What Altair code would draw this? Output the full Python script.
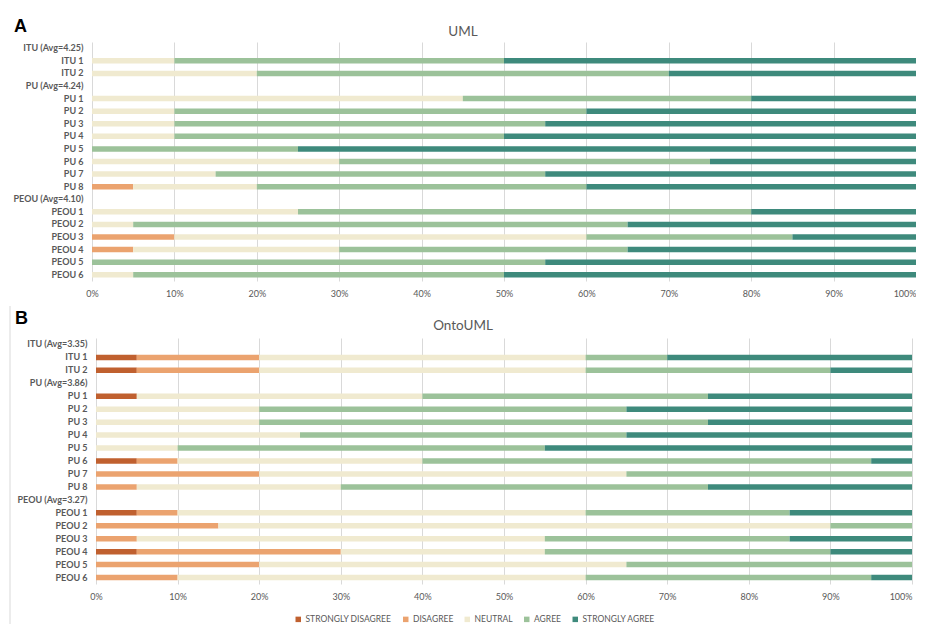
import altair as alt
import pandas as pd

cats = ["STRONGLY DISAGREE", "DISAGREE", "NEUTRAL", "AGREE", "STRONGLY AGREE"]
colors = ["#C0602F", "#EBA36F", "#F0EAD0", "#9CC29A", "#3E8A7C"]

# ---- Panel A : UML ----
uml_rows = ["ITU (Avg=4.25)", "ITU 1", "ITU 2",
            "PU (Avg=4.24)", "PU 1", "PU 2", "PU 3", "PU 4", "PU 5", "PU 6", "PU 7", "PU 8",
            "PEOU (Avg=4.10)", "PEOU 1", "PEOU 2", "PEOU 3", "PEOU 4", "PEOU 5", "PEOU 6"]
uml_items = ["ITU 1", "ITU 2", "PU 1", "PU 2", "PU 3", "PU 4", "PU 5", "PU 6", "PU 7", "PU 8",
             "PEOU 1", "PEOU 2", "PEOU 3", "PEOU 4", "PEOU 5", "PEOU 6"]
uml_sd = [0, 0, 0, 0, 0, 0, 0, 0, 0, 0, 0, 0, 0, 0, 0, 0]
uml_d = [0, 0, 0, 0, 0, 0, 0, 0, 0, 5, 0, 0, 10, 5, 0, 0]
uml_n = [10, 20, 45, 10, 10, 10, 0, 30, 15, 15, 25, 5, 50, 25, 0, 5]
uml_a = [40, 50, 35, 50, 45, 40, 25, 45, 40, 40, 55, 60, 25, 35, 55, 45]
uml_sa = [50, 30, 20, 40, 45, 50, 75, 25, 45, 40, 20, 35, 15, 35, 45, 50]

# ---- Panel B : OntoUML ----
onto_rows = ["ITU (Avg=3.35)", "ITU 1", "ITU 2",
             "PU (Avg=3.86)", "PU 1", "PU 2", "PU 3", "PU 4", "PU 5", "PU 6", "PU 7", "PU 8",
             "PEOU (Avg=3.27)", "PEOU 1", "PEOU 2", "PEOU 3", "PEOU 4", "PEOU 5", "PEOU 6"]
onto_items = uml_items
onto_sd = [5, 5, 5, 0, 0, 0, 0, 5, 0, 0, 5, 0, 0, 5, 0, 0]
onto_d = [15, 15, 0, 0, 0, 0, 0, 5, 20, 5, 5, 15, 5, 25, 20, 10]
onto_n = [40, 40, 35, 20, 20, 25, 10, 30, 45, 25, 50, 75, 50, 25, 45, 50]
onto_a = [10, 30, 35, 45, 55, 40, 45, 55, 35, 45, 25, 10, 30, 35, 35, 35]
onto_sa = [30, 10, 25, 35, 25, 35, 45, 5, 0, 25, 15, 0, 15, 10, 0, 5]

x_ticks = [0, 0.1, 0.2, 0.3, 0.4, 0.5, 0.6, 0.7, 0.8, 0.9, 1.0]

FONT = "Lato"
GRAY = "#595959"


def long_df(items, series):
    recs = []
    for i, it in enumerate(items):
        for k, c in enumerate(cats):
            v = series[k][i]
            if v > 0:
                recs.append({"item": it, "cat": c, "ord": k, "value": v / 100.0})
    return pd.DataFrame(recs)


def panel(df, rows, title, letter, w, h, xrange, lab_pad, title_pos, letter_pos,
          show_legend, frame_line):
    if show_legend:
        leg = alt.Legend(title=None, orient="none", direction="horizontal",
                         legendX=202, legendY=277, symbolType="square",
                         symbolSize=30, symbolStrokeWidth=0,
                         labelFontSize=8.5, labelColor=GRAY, labelFont=FONT,
                         columnPadding=9.5, labelOffset=3)
    else:
        leg = None
    bars = alt.Chart(df).mark_bar(size=5.5).encode(
        x=alt.X("value:Q", stack="zero", title=None,
                scale=alt.Scale(domain=[0, 1], nice=False, range=xrange),
                axis=alt.Axis(format=".0%", values=x_ticks, grid=True, gridColor="#D9D9D9",
                              domain=False, ticks=False, labelColor=GRAY, labelFontSize=9,
                              labelFont=FONT, labelPadding=8, labelFlush=False,
                              labelAlign=alt.expr("datum.value >= 1 ? 'right' : 'center'"))),
        y=alt.Y("item:N", title=None,
                scale=alt.Scale(domain=rows, paddingInner=0, paddingOuter=0),
                axis=alt.Axis(domain=False, ticks=False, labelColor=GRAY, labelFontSize=9,
                              labelFontWeight="bold", labelFont=FONT, labelPadding=lab_pad,
                              minExtent=84, maxExtent=84)),
        color=alt.Color("cat:N", scale=alt.Scale(domain=cats, range=colors), legend=leg),
        order=alt.Order("ord:Q"),
    )
    tdf = pd.DataFrame({"t": [title]})
    ttl = alt.Chart(tdf).mark_text(align="center", baseline="middle", fontSize=13.5,
                                   font=FONT, color=GRAY).encode(
        x=alt.value(title_pos[0]), y=alt.value(title_pos[1]), text="t:N")
    ldf = pd.DataFrame({"t": [letter]})
    let = alt.Chart(ldf).mark_text(align="left", baseline="middle", fontSize=18,
                                   fontWeight="bold", font="Liberation Sans",
                                   color="black").encode(
        x=alt.value(letter_pos[0]), y=alt.value(letter_pos[1]), text="t:N")
    layers = [bars, ttl, let]
    if frame_line:
        ln = alt.Chart(tdf).mark_rule(color="#D9D9D9", strokeWidth=1).encode(
            x=alt.value(-82), y=alt.value(-32), y2=alt.value(h + 45))
        layers.append(ln)
    return alt.layer(*layers).properties(width=w, height=h)


dfA = long_df(uml_items, [uml_sd, uml_d, uml_n, uml_a, uml_sa])
dfB = long_df(onto_items, [onto_sd, onto_d, onto_n, onto_a, onto_sa])

pA = panel(dfA, uml_rows, "UML", "A", 824, 239, [0, 824], 9, (371, -10), (-78, -15),
           False, False)
pB = panel(dfB, onto_rows, "OntoUML", "B", 820, 246, [4, 820], 5, (371, -12.5), (-77, -19),
           True, True)

chart = alt.vconcat(pA, pB, spacing=7).resolve_scale(color="independent").properties(
    padding={"top": 10, "left": 0, "right": 0, "bottom": 0}
).configure_view(stroke=None)

chart.save("out.html", embed_options={"renderer": "svg", "actions": False})
